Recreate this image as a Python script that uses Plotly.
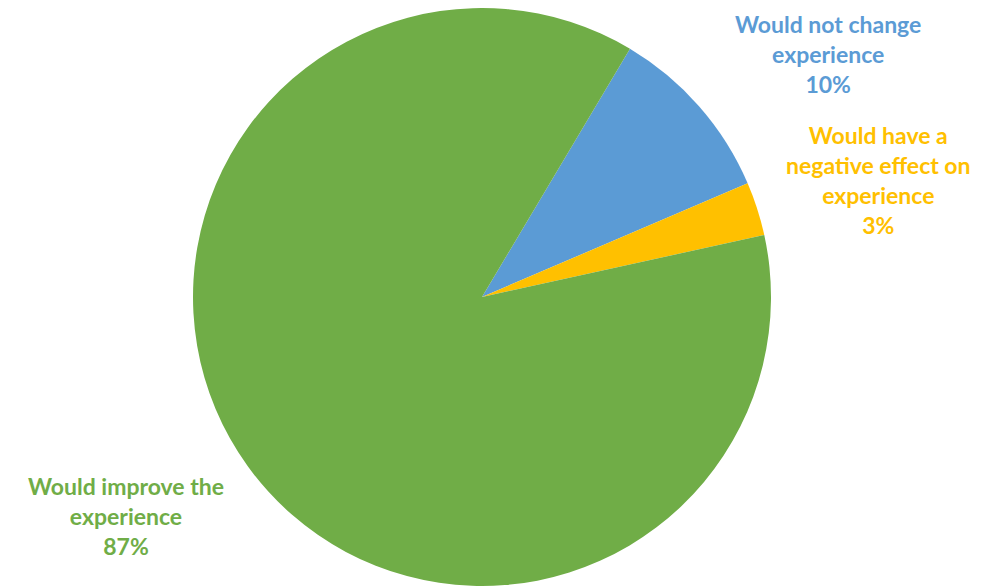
import plotly.graph_objects as go

labels = ["Would not change<br>experience", "Would have a<br>negative effect on<br>experience", "Would improve the<br>experience"]
values = [10, 3, 87]
colors = ["#5B9BD5", "#FFC000", "#70AD47"]
label_pos = [(820, 46), (870, 172), (118, 508)]  # pixel centres of label blocks

W, H = 982, 588
fig = go.Figure(go.Pie(
    labels=labels, values=values, sort=False, direction="clockwise",
    rotation=30.8, marker=dict(colors=colors, line=dict(width=0)),
    textinfo="none", hoverinfo="label+percent",
    domain=dict(x=[185 / W, 763 / W], y=[1 - 578 / H, 1.0]),
    showlegend=False,
))

for lab, v, c, (px, py) in zip(labels, values, colors, label_pos):
    fig.add_annotation(
        x=px / W, y=1 - py / H, xref="paper", yref="paper",
        text=f"{lab}<br>{v}%", showarrow=False, align="center",
        xanchor="center", yanchor="middle",
        font=dict(family="Lato", size=23, color=c, weight="bold"),
    )

fig.update_layout(width=W, height=H, margin=dict(l=0, r=0, t=0, b=0),
                  paper_bgcolor="white", plot_bgcolor="white")
fig.write_html("out.html")
